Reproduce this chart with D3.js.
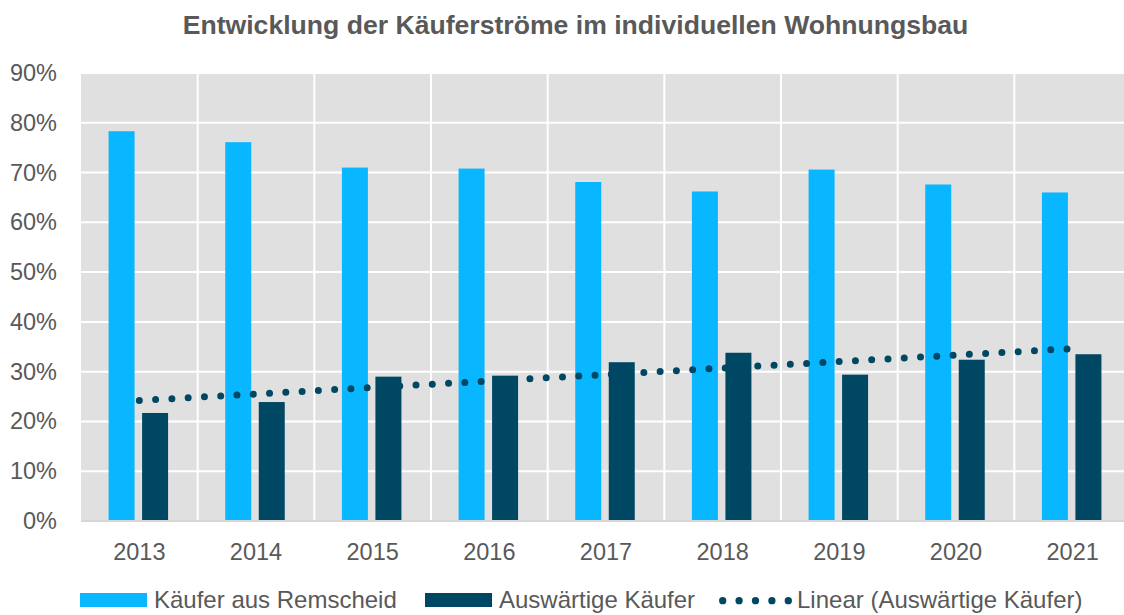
<!DOCTYPE html>
<html lang="de">
<head>
  <meta charset="UTF-8">
  <script src="https://cdn.jsdelivr.net/npm/d3@7/dist/d3.min.js"></script>
  <title>Käuferströme</title>
  <style>
    body { margin: 0; background: #fff; }
    svg { display: block; }
    text { font-family: 'Liberation Sans', Arial, sans-serif; fill: #595959; }
    .axis text { font-size: 23.5px; }
    .legend text { font-size: 24px; }
    .title { font-size: 26.6px; font-weight: bold; text-anchor: middle; }
  </style>
</head>
<body>
<script>
  // data
  const years = ['2013', '2014', '2015', '2016', '2017', '2018', '2019', '2020', '2021'];
  const lokal = [78.3, 76.1, 71.0, 70.8, 68.1, 66.2, 70.6, 67.6, 66.0];
  const auswaerts = [21.7, 23.9, 29.0, 29.2, 31.9, 33.8, 29.4, 32.4, 33.5];
  const yTicks = [0, 10, 20, 30, 40, 50, 60, 70, 80, 90];
  const seriesNames = ['Käufer aus Remscheid', 'Auswärtige Käufer'];
  const trendName = 'Linear (Auswärtige Käufer)';

  const width = 1124, height = 615;
  const plotLeft = 81, plotTop = 73, plotRight = 1131, plotBottom = 521;
  const colLight = '#08b7ff', colDark = '#004764';

  const svg = d3.select('body').append('svg').attr('width', width).attr('height', height);

  svg.append('text').attr('class', 'title')
    .attr('x', 575.5).attr('y', 33.5)
    .text('Entwicklung der Käuferströme im individuellen Wohnungsbau');

  const x = d3.scaleBand().domain(years).range([plotLeft, plotRight]).padding(0);
  const y = d3.scaleLinear().domain([0, 90]).range([plotBottom, plotTop]);
  const xSub = d3.scaleBand().domain(seriesNames).range([0, 59.5]).paddingInner(0.224);

  // plot background
  svg.append('rect').attr('x', plotLeft).attr('y', plotTop)
    .attr('width', plotRight - plotLeft).attr('height', plotBottom - plotTop).attr('fill', '#e0e0e0');

  // grid
  svg.append('g').selectAll('line').data(yTicks.slice(1))
    .enter().append('line')
    .attr('x1', plotLeft).attr('x2', plotRight)
    .attr('y1', d => y(d)).attr('y2', d => y(d))
    .attr('stroke', '#fff').attr('stroke-width', 2);
  svg.append('g').selectAll('line').data(years.slice(1))
    .enter().append('line')
    .attr('x1', d => x(d)).attr('x2', d => x(d))
    .attr('y1', plotTop).attr('y2', plotBottom)
    .attr('stroke', '#fff').attr('stroke-width', 2);

  // bars
  const rows = years.map((yr, i) => ({ year: yr, vals: [lokal[i], auswaerts[i]] }));
  const groups = svg.append('g').selectAll('g').data(rows).enter().append('g')
    .attr('transform', d => `translate(${x(d.year) + (x.bandwidth() - 59.5) / 2 - 1},0)`);
  groups.selectAll('rect')
    .data(d => d.vals.map((v, k) => ({ name: seriesNames[k], v })))
    .enter().append('rect')
    .attr('x', d => xSub(d.name)).attr('width', xSub.bandwidth())
    .attr('y', d => y(d.v)).attr('height', d => plotBottom - y(d.v))
    .attr('fill', (d, k) => k === 0 ? colLight : colDark);

  // x axis line
  svg.append('line').attr('x1', plotLeft).attr('x2', plotRight)
    .attr('y1', plotBottom).attr('y2', plotBottom)
    .attr('stroke', '#d6d6d6').attr('stroke-width', 2);

  // linear trend of auswaerts
  const n = auswaerts.length;
  const mx = d3.mean(d3.range(n)), my = d3.mean(auswaerts);
  const slope = d3.sum(auswaerts, (v, i) => (i - mx) * (v - my)) / d3.sum(d3.range(n), i => (i - mx) ** 2);
  const icpt = my - slope * mx;
  const trend = [0, n - 1].map(i => [x(years[i]) + x.bandwidth() / 2, y(icpt + slope * i)]);
  svg.append('path').attr('d', d3.line()(trend))
    .attr('fill', 'none').attr('stroke', colDark).attr('stroke-width', 7)
    .attr('stroke-linecap', 'round').attr('stroke-dasharray', '0 16.3');

  // axes
  const axisY = d3.axisLeft(y).tickValues(yTicks).tickSize(0).tickPadding(24).tickFormat(d => d + '%');
  svg.append('g').attr('class', 'axis').attr('transform', `translate(${plotLeft},0)`).call(axisY)
    .call(g => g.select('.domain').remove())
    .selectAll('text').attr('fill', '#595959');
  const axisX = d3.axisBottom(x).tickSize(0).tickPadding(22);
  svg.append('g').attr('class', 'axis').attr('transform', `translate(0,${plotBottom})`).call(axisX)
    .call(g => g.select('.domain').remove())
    .selectAll('text').attr('fill', '#595959');
  svg.selectAll('.axis').attr('font-family', null).attr('font-size', null);

  // legend
  const legendY = 600;
  const leg = svg.append('g').attr('class', 'legend');
  const legItems = [
    { label: seriesNames[0], x: 80, type: 'rect', color: colLight },
    { label: seriesNames[1], x: 425, type: 'rect', color: colDark },
    { label: trendName, x: 718, type: 'dots', color: colDark }
  ];
  legItems.forEach(it => {
    if (it.type === 'rect') {
      leg.append('rect').attr('x', it.x).attr('y', legendY - 7).attr('width', 67).attr('height', 14).attr('fill', it.color);
      leg.append('text').attr('x', it.x + 74).attr('y', legendY).attr('dy', '0.35em').text(it.label);
    } else {
      leg.append('line').attr('x1', it.x + 4.7).attr('x2', it.x + 72).attr('y1', legendY + 0.7).attr('y2', legendY + 0.7)
        .attr('stroke', it.color).attr('stroke-width', 7.3).attr('stroke-linecap', 'round')
        .attr('stroke-dasharray', '0 16.4');
      leg.append('text').attr('x', it.x + 79).attr('y', legendY).attr('dy', '0.35em').text(it.label);
    }
  });
</script>
</body>
</html>
